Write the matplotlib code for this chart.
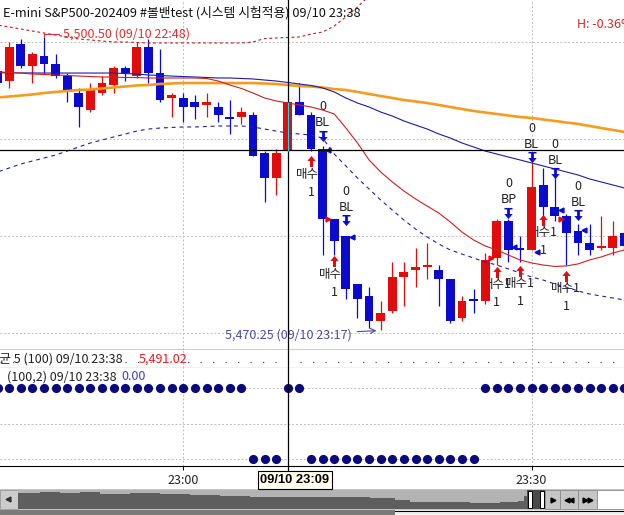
import numpy as np
import matplotlib
matplotlib.use('Agg')
import matplotlib.pyplot as plt
from matplotlib.patches import Rectangle
from matplotlib.lines import Line2D
from matplotlib.transforms import offset_copy

plt.rcParams['font.family'] = ['Noto Sans CJK KR', 'DejaVu Sans']

# bars: minutes after 23:00 (22:44 .. 23:38)
minutes = np.arange(-16, 39)

opens = [5497.0, 5496.0, 5499.75, 5497.5, 5498.5, 5497.75, 5496.5, 5494.75, 5493.0, 5494.75,
         5495.5, 5497.25, 5496.5, 5499.5, 5496.75, 5494.25, 5494.25, 5493.75, 5493.5, 5493.25,
         5492.25, 5492.25, 5492.5, 5488.5, 5486.0, 5488.75, 5493.75, 5492.5, 5489.0, 5481.75,
         5480.0, 5475.0, 5473.75, 5471.25, 5472.25, 5475.75, 5476.5, 5476.75, 5476.5, 5475.5,
         5471.5, 5473.5, 5473.25, 5477.75, 5481.5, 5478.75, 5478.5, 5485.25, 5483.0, 5482.0,
         5480.5, 5479.25, 5478.75, 5478.75, 5480.25]
highs = [5497.25, 5500.0, 5500.25, 5499.0, 5500.5, 5498.75, 5496.75, 5495.25, 5495.75, 5496.5,
         5497.5, 5497.5, 5500.0, 5500.25, 5499.25, 5494.75, 5494.75, 5494.5, 5494.75, 5493.75,
         5494.0, 5493.25, 5492.75, 5488.75, 5489.0, 5493.75, 5495.75, 5492.75, 5489.25, 5481.75,
         5480.0, 5475.0, 5474.75, 5473.25, 5477.25, 5477.25, 5478.75, 5479.25, 5477.0, 5475.5,
         5473.75, 5474.5, 5478.25, 5481.75, 5481.75, 5480.0, 5487.5, 5487.0, 5487.0, 5482.25,
         5481.25, 5481.25, 5482.0, 5481.5, 5480.5]
lows = [5495.5, 5495.25, 5497.25, 5495.75, 5496.75, 5496.25, 5493.75, 5491.25, 5492.75, 5494.5,
        5494.75, 5496.0, 5496.25, 5495.75, 5493.75, 5492.25, 5491.75, 5492.0, 5492.25, 5491.75,
        5490.5, 5491.5, 5488.25, 5483.5, 5484.25, 5488.75, 5492.5, 5488.75, 5478.0, 5478.0,
        5473.5, 5471.5, 5470.5, 5470.25, 5472.0, 5472.75, 5474.75, 5475.5, 5472.75, 5471.0,
        5471.25, 5472.0, 5473.0, 5477.0, 5477.25, 5477.25, 5478.5, 5482.0, 5481.5, 5477.0,
        5478.0, 5478.0, 5478.5, 5478.0, 5478.5]
closes = [5495.75, 5499.5, 5497.5, 5498.75, 5497.75, 5496.5, 5495.0, 5493.25, 5495.0, 5495.75,
          5497.25, 5496.75, 5499.5, 5496.75, 5494.0, 5494.5, 5493.25, 5493.25, 5493.75, 5492.5,
          5492.0, 5492.75, 5488.25, 5486.0, 5488.5, 5493.75, 5492.5, 5489.0, 5481.75, 5479.5,
          5474.5, 5473.5, 5471.25, 5472.0, 5475.75, 5476.25, 5476.75, 5477.0, 5475.5, 5471.25,
          5473.25, 5473.25, 5477.5, 5481.5, 5478.5, 5478.5, 5485.0, 5483.0, 5482.0, 5480.25,
          5479.25, 5478.5, 5479.0, 5480.0, 5479.0]

# moving averages / bands
ma_long = [5494.26, 5494.36, 5494.46, 5494.57, 5494.72, 5494.83, 5494.93, 5495.03, 5495.08, 5495.19,
           5495.29, 5495.39, 5495.50, 5495.55, 5495.65, 5495.70, 5495.75, 5495.75, 5495.75, 5495.75,
           5495.75, 5495.75, 5495.75, 5495.70, 5495.65, 5495.55, 5495.44, 5495.39, 5495.29, 5495.13,
           5495.03, 5494.83, 5494.62, 5494.41, 5494.21, 5494.00, 5493.85, 5493.69, 5493.49, 5493.28,
           5493.07, 5492.87, 5492.71, 5492.56, 5492.40, 5492.25, 5492.15, 5491.99, 5491.84, 5491.68,
           5491.53, 5491.32, 5491.11, 5490.91, 5490.70]
ma_mid = [5496.80, 5496.80, 5496.79, 5496.79, 5496.78, 5496.78, 5496.78, 5496.78, 5496.78, 5496.78,
          5496.78, 5496.73, 5496.68, 5496.58, 5496.53, 5496.47, 5496.42, 5496.37, 5496.32, 5496.27,
          5496.27, 5496.22, 5496.17, 5496.06, 5495.96, 5495.81, 5495.65, 5495.50, 5495.24, 5494.83,
          5494.21, 5493.69, 5493.28, 5492.76, 5492.35, 5491.84, 5491.42, 5491.01, 5490.50, 5490.08,
          5489.57, 5489.16, 5488.74, 5488.43, 5488.12, 5487.82, 5487.51, 5487.20, 5486.89, 5486.58,
          5486.27, 5485.86, 5485.55, 5485.24, 5484.93]
ma_short = [5496.89, 5496.84, 5496.78, 5496.68, 5496.63, 5496.58, 5496.53, 5496.47, 5496.42, 5496.37,
            5496.37, 5496.32, 5496.32, 5496.27, 5496.27, 5496.27, 5496.27, 5496.27, 5496.22, 5495.96,
            5495.55, 5495.19, 5494.72, 5494.21, 5493.90, 5493.69, 5493.49, 5493.28, 5492.97, 5492.56,
            5491.12, 5489.57, 5487.82, 5486.58, 5485.55, 5484.62, 5483.80, 5483.07, 5482.35, 5481.42,
            5480.39, 5479.57, 5478.95, 5478.54, 5478.02, 5477.51, 5477.20, 5476.99, 5476.84, 5476.89,
            5477.10, 5477.51, 5477.82, 5478.23, 5478.54]
band_upper = [5501.73, 5501.53, 5501.32, 5501.11, 5500.91, 5500.70, 5500.50, 5500.29, 5500.19, 5500.08,
              5499.98, 5499.98, 5499.93, 5499.88, 5499.88, 5499.88, 5499.88, 5499.88, 5499.88, 5499.88,
              5499.88, 5499.88, 5499.98, 5500.34, 5500.39, 5500.45, 5500.50, 5500.80, 5501.01, 5501.63,
              5502.56, 5503.59, 5504.72, 5506.37]
band_lower = [5486.58, 5486.99, 5487.40, 5487.71, 5488.02, 5488.33, 5488.74, 5489.16, 5489.57, 5489.88,
              5490.19, 5490.50, 5490.80, 5491.01, 5491.11, 5491.17, 5491.22, 5491.22, 5491.27, 5491.32,
              5491.32, 5491.32, 5491.22, 5491.01, 5490.80, 5490.60, 5490.50, 5490.39, 5490.08, 5488.43,
              5487.20, 5485.96, 5484.83, 5483.69, 5482.66, 5481.63, 5480.70, 5479.88, 5479.16, 5478.54,
              5478.12, 5477.71, 5477.30, 5476.99, 5476.58, 5476.17, 5475.75, 5475.44, 5475.03, 5474.72,
              5474.31, 5474.00, 5473.79, 5473.59, 5473.38]

# system signals
buy_bars = [11, 13, 27, 29, 31, 33]
buy_prices = [5488.3, 5478.0, 5476.9, 5477.0, 5482.25, 5476.5]
sell_bars = [12, 14, 28, 30, 32, 34]
sell_prices = [5489.7, 5481.0, 5481.75, 5487.5, 5485.85, 5481.5]
sell_codes = ['BL', 'BL', 'BP', 'BL', 'BL', 'BL']
entry_bars = [13, 27, 33]
entry_prices = [5481.75, 5477.75, 5481.75]
exit_bars = [12, 14, 28, 30, 32, 34]
exit_prices = [5488.85, 5479.9, 5478.85, 5478.3, 5482.65, 5480.6]

# band state indicator (0 = upper row, -1 = lower row)
band_state = [0, 0, 0, 0, 0, 0, 0, 0, 0, 0, 0, 0, 0, 0, 0, 0, 0, 0, 0, 0, 0, 0,
              -1, -1, -1, 0, 0, -1, -1, -1, -1, -1, -1, -1, -1, -1, -1, -1, -1, -1, -1, -1,
              0, 0, 0, 0, 0, 0, 0, 0, 0, 0, 0, 0, 0]

hi_price, hi_bar = 5500.5, -12
lo_price, lo_bar = 5470.25, 17
cross_bar, cross_price = 9, 5488.85

# scrollbar overview profile (pixels)
overview_px = [18, 40, 60, 80, 100, 130, 160, 190, 220, 250, 280, 310, 340, 370, 395, 410, 440, 470, 500, 518, 524, 527]
overview_top = [493, 492, 493, 492, 494, 493, 494, 495, 496, 497, 497, 497, 497, 498, 500, 502, 502, 503, 502, 501, 496, 497]

RED = '#e30c0c'
BLUE = '#0b0bd0'
NAVY = '#0a0a7c'
FS = 9.0
W, H = 624, 515
PPM = 11.61  # pixels per minute
X0 = 183.3   # pixel of 23:00


def rect(x0, y0, x1, y1):
    return [x0 / W, 1 - y1 / H, (x1 - x0) / W, (y1 - y0) / H]


fig = plt.figure(figsize=(W / 100, H / 100), dpi=100)
xlim = (-X0 / PPM, (W - X0) / PPM)

# ---------------- main price panel ----------------
ax = fig.add_axes(rect(0, 0, W, 350))
ax.set_xlim(*xlim)
ax.set_ylim(5504.31 - 350 / 9.7, 5504.31)
ax.set_xticks([0, 30])
ax.set_yticks([5470, 5480, 5490, 5500])
ax.grid(True, color='#bdbdbd', linestyle=(0, (2, 2)), lw=0.7)
ax.tick_params(length=0, labelleft=False, labelbottom=False)
for s in ['top', 'left', 'right']:
    ax.spines[s].set_visible(False)
ax.spines['bottom'].set_color('black')
ax.spines['bottom'].set_linewidth(1.0)

t = minutes
o, h, l, c = map(np.array, (opens, highs, lows, closes))
col = np.where(c >= o, RED, BLUE)
ax.vlines(t, l, h, colors=col, lw=0.9, zorder=3)
ax.bar(t, np.maximum(np.abs(c - o), 0.22), bottom=np.minimum(o, c), width=0.76,
       color=col, lw=0, zorder=3)

ax.plot(t, ma_long, color='#f39c1f', lw=1.9, zorder=4)
ax.plot(t, ma_mid, color='#1c1ca0', lw=0.8, zorder=4)
ax.plot(t, ma_short, color='#cf2020', lw=0.8, zorder=4)
ax.plot(t[:len(band_upper)], band_upper, color='#c81818', lw=0.8, ls=(0, (2.5, 2.5)), zorder=4)
ax.plot(t, band_lower, color='#2020a8', lw=0.8, ls=(0, (3.5, 3.5)), zorder=4)

# signal arrows
up_arrow = [(0, 1), (0.75, 0.1), (0.27, 0.1), (0.27, -1), (-0.27, -1), (-0.27, 0.1), (-0.75, 0.1)]
dn_arrow = [(-0.72, 1), (0.72, 1), (0.72, 0.72), (0.25, 0.72), (0.25, -0.1), (0.75, -0.1),
            (0, -1), (-0.75, -0.1), (-0.25, -0.1), (-0.25, 0.72), (-0.72, 0.72)]
tr_dn = offset_copy(ax.transData, fig=fig, x=0, y=-6, units='dots')
tr_up = offset_copy(ax.transData, fig=fig, x=0, y=6, units='dots')
ax.plot(buy_bars, buy_prices, ls='none', marker=up_arrow, ms=8, color=RED, mew=0,
        transform=tr_dn, zorder=5)
ax.plot(sell_bars, sell_prices, ls='none', marker=dn_arrow, ms=8, color=BLUE, mew=0,
        transform=tr_up, zorder=5)
for b, p in zip(buy_bars, buy_prices):
    ax.annotate('매수1', xy=(b, p), xytext=(0, -19), textcoords='offset pixels',
                ha='center', va='center', fontsize=FS, color='#222222', zorder=2)
    ax.annotate('1', xy=(b, p), xytext=(0, -37), textcoords='offset pixels',
                ha='center', va='center', fontsize=FS, color='#222222', zorder=2)
for b, p, code in zip(sell_bars, sell_prices, sell_codes):
    ax.annotate(code, xy=(b, p), xytext=(0, 19), textcoords='offset pixels',
                ha='center', va='center', fontsize=FS, color='#222222', zorder=2)
    ax.annotate('0', xy=(b, p), xytext=(0, 35), textcoords='offset pixels',
                ha='center', va='center', fontsize=FS, color='#222222', zorder=2)
ax.plot(np.array(entry_bars) - 0.5, entry_prices, ls='none', marker='>', ms=3.5,
        color=RED, zorder=5)
ax.plot(np.array(exit_bars) + 0.5, exit_prices, ls='none', marker='<', ms=3.5,
        color=BLUE, zorder=5)

# high / low labels
ax.annotate('5,500.50 (09/10 22:48)', xy=(hi_bar, hi_price), xytext=(19, 3),
            textcoords='offset pixels', ha='left', va='center', fontsize=FS, color='#d83434',
            arrowprops=dict(arrowstyle='-', color='#d83434', lw=0.8, shrinkA=1, shrinkB=0,
                            connectionstyle='angle,angleA=0,angleB=90,rad=0'), zorder=5)
ax.annotate('5,470.25 (09/10 23:17)', xy=(lo_bar, lo_price), xytext=(-29, -5),
            textcoords='offset pixels', ha='right', va='center', fontsize=FS, color='#4b4ba6',
            arrowprops=dict(arrowstyle='->', color='#4b4ba6', lw=0.8, shrinkA=2, shrinkB=3), zorder=5)

# crosshair
ax.axhline(cross_price, color='black', lw=0.9, zorder=6)
ax.axvline(cross_bar, color='black', lw=0.9, zorder=6)
ci = list(minutes).index(cross_bar)
ax.vlines(cross_bar, opens[ci], closes[ci], color='#00e8ff', lw=0.9, zorder=7)

# ---------------- MA info row ----------------
ax_ma = fig.add_axes(rect(0, 350, W, 368))
ax_ma.set_xlim(*xlim)
ax_ma.set_ylim(0, 1)
ax_ma.set_xticks([0, 30])
ax_ma.set_yticks([])
ax_ma.grid(True, axis='x', color='#bdbdbd', linestyle=(0, (2, 2)), lw=0.7)
ax_ma.tick_params(length=0, labelbottom=False)
for s in ['top', 'left', 'right']:
    ax_ma.spines[s].set_visible(False)
ax_ma.axhline(0.35, color='#555555', lw=0.9, ls=(0, (1, 9)))
ax_ma.axvline(cross_bar, color='black', lw=0.9, zorder=6)

# ---------------- band state panel ----------------
ax_s = fig.add_axes(rect(0, 368, W, 466))
ax_s.set_xlim(*xlim)
ax_s.set_ylim(-1 - 7 / 71, 20 / 71)
ax_s.set_yticks([0, -0.5, -1])
ax_s.set_xticks([0, 30])
ax_s.set_xticklabels(['23:00', '23:30'])
ax_s.grid(True, color='#bdbdbd', linestyle=(0, (2, 2)), lw=0.7)
ax_s.tick_params(axis='y', length=0, labelleft=False)
ax_s.tick_params(axis='x', length=3, width=0.7, direction='out', pad=3, labelsize=FS,
                 labelcolor='#222222')
for s in ['top', 'left', 'right']:
    ax_s.spines[s].set_visible(False)
ax_s.plot(t, band_state, ls='none', marker='o', ms=6.6, color=NAVY, mew=0, zorder=3)
ax_s.axvline(cross_bar, color='black', lw=0.9, zorder=6)

# ---------------- pixel overlay: texts and scrollbar ----------------
ui = fig.add_axes([0, 0, 1, 1])
ui.set_xlim(0, W)
ui.set_ylim(H, 0)
ui.axis('off')
ui.patch.set_alpha(0)

ui.text(3, 13, 'E-mini S&P500-202409 #볼밴test (시스템 시험적용) 09/10 23:38', fontsize=9.2,
        va='center', ha='left', color='#111111')
ui.text(577, 25, 'H: -0.36%', fontsize=FS, va='center', ha='left', color='#d42a2a')
ui.text(-11.5, 359, '평균 5 (100) 09/10 23:38', fontsize=FS, va='center', ha='left', color='#222222')
ui.text(139, 359, '5,491.02', fontsize=FS, va='center', ha='left', color='#e02020')
ui.text(7, 377, '(100,2) 09/10 23:38', fontsize=FS, va='center', ha='left', color='#222222')
ui.text(121, 377, '0.00', fontsize=FS, va='center', ha='left', color='#4040b0')

ui.add_line(Line2D([X0 + cross_bar * PPM] * 2, [466, 472], color='black', lw=0.9))
ui.text(295, 480, '09/10 23:09', fontsize=9.3, fontweight='bold', ha='center', va='center',
        family='Liberation Sans', color='black',
        bbox=dict(boxstyle='square,pad=0.2', fc='#fffff0', ec='black', lw=0.8))

# scrollbar
ui.add_patch(Rectangle((0, 489), W, 21, fc='#c4c4c4', ec='none'))
ui.add_patch(Rectangle((0, 489.5), 18, 19.5, fc='#cccccc', ec='#9a9a9a', lw=0.6))
ui.plot([8], [499], marker='<', ms=3.5, color='#333333')
ui.add_patch(Rectangle((18, 490), 509, 19, fc='#b3b3b3', ec='none'))
ui.fill_between(overview_px, overview_top, 509, step='post', color='#5e5e5e', lw=0)
ui.add_patch(Rectangle((527, 490), 18, 19, fc='#4a4a4a', ec='none'))
ui.add_patch(Rectangle((528, 491), 3.5, 17, fc='white', ec='black', lw=0.7))
ui.add_patch(Rectangle((540, 491), 3.5, 17, fc='white', ec='black', lw=0.7))
for x0, w in [(545, 15), (560, 18), (578, 19)]:
    ui.add_patch(Rectangle((x0, 490), w, 19, fc='#c6c6c6', ec='#8c8c8c', lw=0.6))
ui.plot([552.5], [499.5], marker='>', ms=3.5, color='black')
ui.plot([566.5, 571], [499.5, 499.5], ls='none', marker='<', ms=3.5, color='black')
ui.plot([585, 589.5], [499.5, 499.5], ls='none', marker='>', ms=3.5, color='black')
ui.add_patch(Rectangle((597, 490), 30, 19, fc='white', ec='#8c8c8c', lw=0.6))
ui.add_patch(Rectangle((0, 509.5), 395, 6, fc='#7a7a7a', ec='none'))
ui.add_patch(Rectangle((395, 509.5), 229, 6, fc='#f2f2f2', ec='none'))
ui.add_line(Line2D([395, W], [511, 511], color='black', lw=0.8))

fig.savefig('out.png', dpi=100, facecolor='white')
